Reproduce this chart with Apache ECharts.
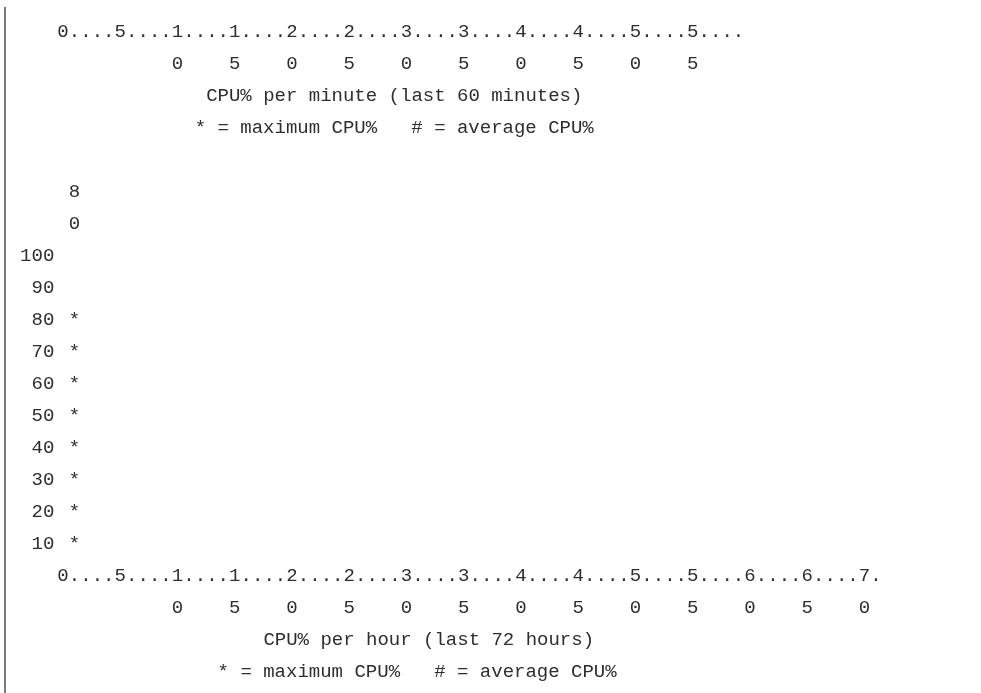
<!DOCTYPE html>
<html>
<head>
<meta charset="utf-8">
<script src="https://cdn.jsdelivr.net/npm/echarts@6/dist/echarts.min.js"></script>
<style>
  html, body { margin: 0; padding: 0; background: #ffffff; }
  #chart { width: 981px; height: 693px; }
</style>
</head>
<body>
<div id="chart"></div>
<script>
// ---- data ----
// tick label rows of the 60-minute chart (one character per column)
const minuteAxisRow1 = "0....5....1....1....2....2....3....3....4....4....5....5....".split('');
const minuteAxisRow2 = "          0    5    0    5    0    5    0    5    0    5    ".split('');
// tick label rows of the 72-hour chart
const hourAxisRow1 = "0....5....1....1....2....2....3....3....4....4....5....5....6....6....7.".split('');
const hourAxisRow2 = "          0    5    0    5    0    5    0    5    0    5    0    5    0 ".split('');
// y tick values of the 72-hour chart
const cpuTicks = [100, 90, 80, 70, 60, 50, 40, 30, 20, 10];
// maximum CPU% per hour (most recent hour first); only one hour recorded
const hourMaxCPU = [80];

const minuteTitle = "CPU% per minute (last 60 minutes)";
const hourTitle = "CPU% per hour (last 72 hours)";
const legendText = "* = maximum CPU%   # = average CPU%";

// ---- layout ----
const FONT = "'Liberation Mono', 'DejaVu Sans Mono', monospace";
const FS = 19;
const COLOR = '#2e2e2e';
const CW = 11.45;   // column width
const ROW = 32;     // row height
const LEFT = 57.3;

const minuteCols = minuteAxisRow1.map((_, i) => i);
const hourCols = hourAxisRow1.map((_, i) => i);

// asterisks: one per 10% step up to the max value of each hour
const starPoints = [];
const digitPoints = [];
hourMaxCPU.forEach((v, k) => {
  const col = k + 1;
  for (let r = 10; r <= v; r += 10) starPoints.push([col, r]);
  const s = String(v).padStart(2, ' ');
  digitPoints.push([col, 120, s[0]]);
  digitPoints.push([col, 110, s[1]]);
});

const textStyle = { fontFamily: FONT, fontSize: FS, color: COLOR, fontWeight: 'normal', lineHeight: ROW };

const chart = echarts.init(document.getElementById('chart'), null, { renderer: 'canvas' });
chart.setOption({
  animation: false,
  backgroundColor: '#ffffff',
  graphic: [{
    type: 'rect', shape: { x: 4, y: 7, width: 2, height: 700 },
    style: { fill: '#7a7a7a' }, silent: true
  }],
  title: [
    { text: minuteTitle, left: LEFT + 13 * CW, top: 2 * ROW + 32 - 16, padding: 0, textStyle },
    { text: legendText, left: LEFT + 12 * CW, top: 3 * ROW + 32 - 16, padding: 0, textStyle },
    { text: hourTitle, left: LEFT + 18 * CW, top: 19 * ROW + 32 - 16, padding: 0, textStyle },
    { text: legendText, left: LEFT + 14 * CW, top: 20 * ROW + 32 - 16, padding: 0, textStyle }
  ],
  grid: [
    { left: LEFT, top: 0, width: minuteCols.length * CW, height: 32, containLabel: false },
    { left: LEFT, top: 192, width: hourCols.length * CW, height: 384, containLabel: false }
  ],
  xAxis: [
    {
      type: 'category', gridIndex: 0, data: minuteCols, boundaryGap: true,
      axisLine: { show: false }, axisTick: { show: false }, splitLine: { show: false },
      axisLabel: {
        interval: 0, margin: -16, verticalAlign: 'top', align: 'center',
        fontFamily: FONT, fontSize: FS, color: COLOR, lineHeight: ROW,
        formatter: (v, i) => minuteAxisRow1[i] + '\n' + minuteAxisRow2[i]
      }
    },
    {
      type: 'category', gridIndex: 1, data: hourCols, boundaryGap: true,
      axisLine: { show: false }, axisTick: { show: false }, splitLine: { show: false },
      axisLabel: {
        interval: 0, margin: -16, verticalAlign: 'top', align: 'center',
        fontFamily: FONT, fontSize: FS, color: COLOR, lineHeight: ROW,
        formatter: (v, i) => hourAxisRow1[i] + '\n' + hourAxisRow2[i]
      }
    }
  ],
  yAxis: [
    { type: 'value', gridIndex: 0, show: false, min: 0, max: 1 },
    {
      type: 'value', gridIndex: 1, min: 0, max: 120, interval: 10,
      axisLine: { show: false }, axisTick: { show: false }, splitLine: { show: false },
      axisLabel: {
        margin: 3, align: 'right', fontFamily: FONT, fontSize: FS, color: COLOR,
        formatter: v => cpuTicks.includes(v) ? String(v) : ''
      }
    }
  ],
  series: [
    {
      type: 'scatter', xAxisIndex: 1, yAxisIndex: 1, data: starPoints,
      symbolSize: 1, itemStyle: { color: 'rgba(0,0,0,0)', opacity: 1 }, silent: true,
      label: { show: true, position: 'inside', formatter: '*', fontFamily: FONT, fontSize: FS, color: COLOR, opacity: 1 }
    },
    {
      type: 'scatter', xAxisIndex: 1, yAxisIndex: 1, data: digitPoints,
      symbolSize: 1, itemStyle: { color: 'rgba(0,0,0,0)', opacity: 1 }, silent: true,
      label: { show: true, position: 'inside', formatter: p => p.data[2], fontFamily: FONT, fontSize: FS, color: COLOR, opacity: 1 }
    }
  ]
});
</script>
</body>
</html>
